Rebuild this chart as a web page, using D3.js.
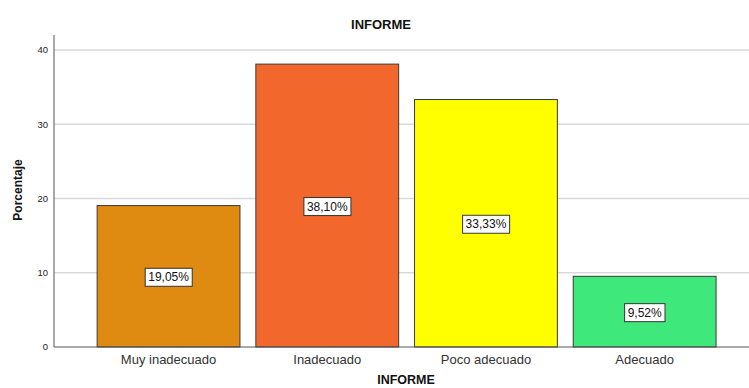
<!DOCTYPE html>
<html><head><meta charset="utf-8">
<script src="https://cdn.jsdelivr.net/npm/d3@7"></script>
<style>body{margin:0;background:#fff;} svg{display:block;font-family:Arial,"Liberation Sans",sans-serif;}</style>
</head><body>
<svg id="c" width="749" height="388"></svg>
<script>
const categories = ["Muy inadecuado","Inadecuado","Poco adecuado","Adecuado"];
const values = [19.05, 38.10, 33.33, 9.52];
const labels = ["19,05%","38,10%","33,33%","9,52%"];
const colors = ["#DF8A10","#F2682C","#FFFF00","#3FE87A"];
const yTicks = [0,10,20,30,40];

const svg = d3.select("#c");
const axisX = 54, yBottom = 347, yTop = 35, right = 749;
const y = d3.scaleLinear().domain([0,40]).range([yBottom, 50]);
const x = d3.scaleBand().domain(categories).range([89.2, 724]).paddingInner(0.1).paddingOuter(0.05);

// gridlines
svg.append("g").selectAll("line").data(yTicks.filter(d=>d>0)).join("line")
  .attr("x1", axisX).attr("x2", right)
  .attr("y1", d=>y(d)).attr("y2", d=>y(d))
  .attr("stroke","#d9d9d9").attr("stroke-width",1.5);

// y tick labels
svg.append("g").selectAll("text").data(yTicks).join("text")
  .attr("x", 48).attr("y", d=>y(d)).attr("dy","0.35em")
  .attr("text-anchor","end").attr("font-size",9.5).attr("fill","#222")
  .text(d=>d);

// bars
svg.append("g").selectAll("rect").data(values).join("rect")
  .attr("x",(d,i)=>x(categories[i])).attr("width",x.bandwidth())
  .attr("y",d=>y(d)).attr("height",d=>y(0)-y(d))
  .attr("fill",(d,i)=>colors[i]).attr("stroke","#3a3a3a").attr("stroke-width",1);

// axes lines
svg.append("line").attr("x1",axisX).attr("x2",axisX).attr("y1",yTop).attr("y2",yBottom)
  .attr("stroke","#555").attr("stroke-width",1);
svg.append("line").attr("x1",axisX).attr("x2",right).attr("y1",yBottom).attr("y2",yBottom)
  .attr("stroke","#555").attr("stroke-width",1);

// value labels
const lg = svg.append("g").selectAll("g").data(values).join("g")
  .attr("transform",(d,i)=>`translate(${x(categories[i])+x.bandwidth()/2},${(y(d)+y(0))/2+1})`);
lg.append("text").attr("text-anchor","middle").attr("dy","0.35em")
  .attr("font-size",12).attr("fill","#111").text((d,i)=>labels[i]);
lg.each(function(){
  const g=d3.select(this); const b=g.select("text").node().getBBox();
  g.insert("rect","text").attr("x",b.x-3).attr("y",-9).attr("width",b.width+6).attr("height",18)
   .attr("fill","#fff").attr("stroke","#333").attr("stroke-width",1);
});

// category labels
svg.append("g").selectAll("text").data(categories).join("text")
  .attr("x",d=>x(d)+x.bandwidth()/2).attr("y",359).attr("dy","0.35em")
  .attr("text-anchor","middle").attr("font-size",13).attr("fill","#333").text(d=>d);

// titles
svg.append("text").attr("x",381).attr("y",24).attr("dy","0.35em").attr("text-anchor","middle")
  .attr("font-size",13).attr("font-weight","bold").attr("fill","#111").text("INFORME");
svg.append("text").attr("x",406).attr("y",383.5).attr("text-anchor","middle")
  .attr("font-size",12.5).attr("font-weight","bold").attr("fill","#111").text("INFORME");
svg.append("text").attr("transform","translate(18,190) rotate(-90)").attr("dy","0.35em")
  .attr("text-anchor","middle").attr("font-size",12).attr("font-weight","bold").attr("fill","#111").text("Porcentaje");
</script>
</body></html>
